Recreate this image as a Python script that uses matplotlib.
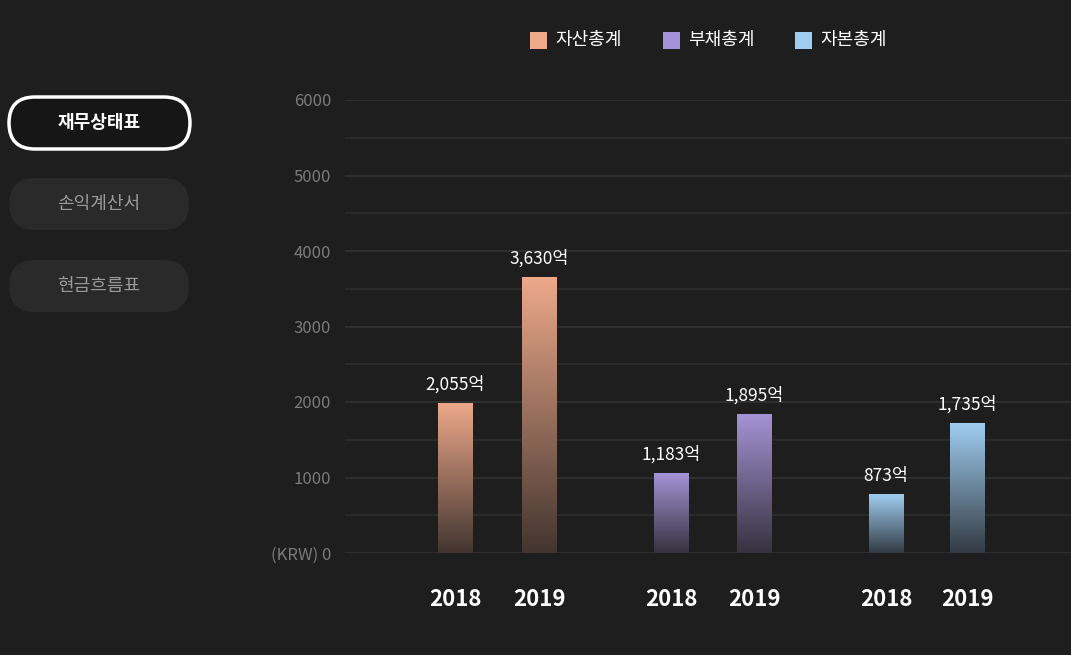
import matplotlib
matplotlib.use("Agg")
import matplotlib.pyplot as plt
import numpy as np
from matplotlib.patches import FancyBboxPatch, Rectangle
from matplotlib.colors import LinearSegmentedColormap

plt.rcParams['font.family'] = ['Noto Sans CJK KR', 'DejaVu Sans']

series = ['자산총계', '부채총계', '자본총계']
years = ['2018', '2019']
heights = [[1980, 3650], [1050, 1830], [770, 1710]]
labels = [['2,055억', '3,630억'], ['1,183억', '1,895억'], ['873억', '1,735억']]
colors = ['#eda98a', '#a493d6', '#9fcdf0']
bottoms = ['#433530', '#36323e', '#333b44']
yticks = [0, 1000, 2000, 3000, 4000, 5000, 6000]
ytick_labels = ['(KRW) 0', '1000', '2000', '3000', '4000', '5000', '6000']
buttons = ['재무상태표', '손익계산서', '현금흐름표']

bg = '#1e1e1e'
W, H = 1071, 655
fig = plt.figure(figsize=(W/100, H/100), dpi=100, facecolor=bg)

# overlay in pixel coords
ov = fig.add_axes([0, 0, 1, 1])
ov.set_xlim(0, W); ov.set_ylim(H, 0); ov.axis('off')

ax = fig.add_axes([345/W, (H-553)/H, (W-345)/W, 453/H])
ax.set_facecolor(bg)
for y in np.arange(0, 6001, 500):
    ax.axhline(y, color='#2e2e2e' if y % 1000 else '#333333', lw=1.2, zorder=0)
for s in ax.spines.values():
    s.set_visible(False)
ax.set_yticks(yticks)
ax.set_yticklabels(ytick_labels, color='#7a7a7a', fontsize=12)
ax.tick_params(axis='y', length=0, pad=10)
ax.set_xticks([])

centers = [[455, 539], [671, 754], [886, 967]]
bw = 35
for i in range(3):
    cmap = LinearSegmentedColormap.from_list('g', [bottoms[i], colors[i]])
    for j in range(2):
        x = centers[i][j]
        h = heights[i][j]
        grad = np.linspace(0, 1, 256).reshape(-1, 1)
        ax.imshow(grad, cmap=cmap, origin='lower', aspect='auto',
                  extent=[x-bw/2, x+bw/2, 0, h], zorder=2)
        ax.text(x, h + 130, labels[i][j], ha='center', va='bottom',
                color='white', fontsize=12.5)
        ov.text(x, 600, years[j], ha='center', va='center',
                color='white', fontsize=16, fontweight='bold')
ax.set_xlim(345, 1071)
ax.set_ylim(0, 6000)

# legend
lx = [530, 663, 795]
for i in range(3):
    ov.add_patch(Rectangle((lx[i], 32), 17, 17, facecolor=colors[i], edgecolor='none'))
    ov.text(lx[i]+25, 40, series[i], color='white', fontsize=13, va='center', ha='left')

# buttons
by = [123, 204, 286]
for k, b in enumerate(buttons):
    if k == 0:
        p = FancyBboxPatch((9, by[k]-26), 181, 52,
                           boxstyle='round,pad=0,rounding_size=26',
                           facecolor='#161616', edgecolor='white', lw=2.5)
        col = 'white'
    else:
        p = FancyBboxPatch((9, by[k]-26), 180, 52,
                           boxstyle='round,pad=0,rounding_size=26',
                           facecolor='#2a2a2a', edgecolor='none')
        col = '#9a9a9a'
    ov.add_patch(p)
    ov.text(99, by[k], b, ha='center', va='center', color=col,
            fontsize=13, fontweight='bold' if k == 0 else 'normal')

fig.savefig('out.png', dpi=100, facecolor=bg)
